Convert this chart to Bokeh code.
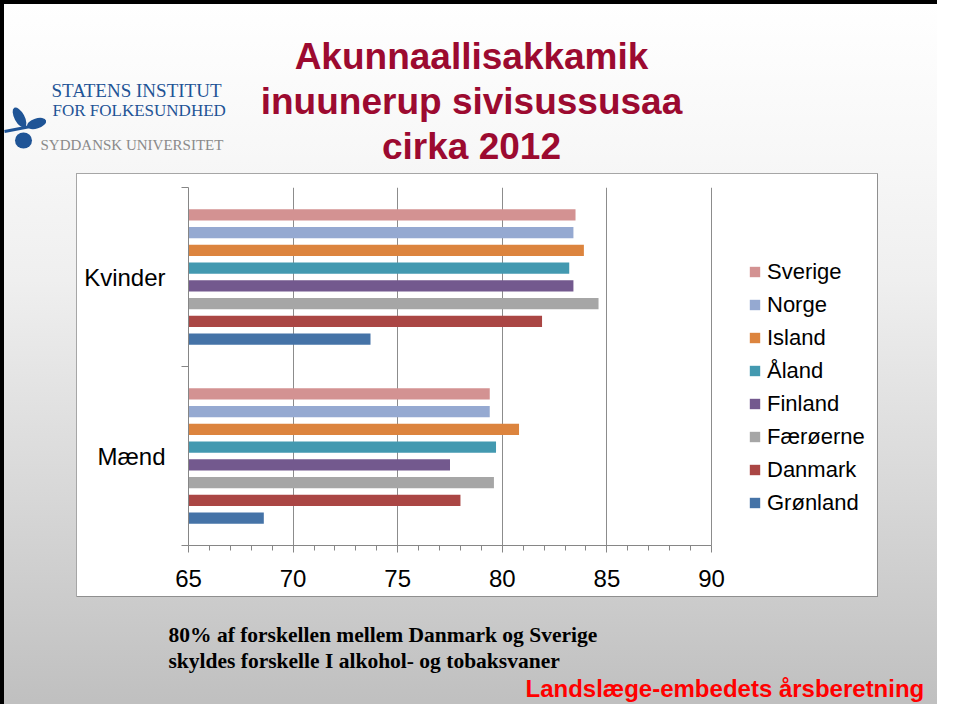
from bokeh.plotting import figure
from bokeh.layouts import column, row
from bokeh.models import (Range1d, FixedTicker, Legend, LegendItem, Label,
                          ColumnDataSource, Spacer)
from bokeh.embed import file_html
from bokeh.resources import INLINE

# ---------------- data ----------------
genders = ["Mænd", "Kvinder"]
countries = ["Sverige", "Norge", "Island", "Åland", "Finland", "Færøerne", "Danmark", "Grønland"]
kvinder = [83.5, 83.4, 83.9, 83.2, 83.4, 84.6, 81.9, 73.7]
maend = [79.4, 79.4, 80.8, 79.7, 77.5, 79.6, 78.0, 68.6]
colors = ["#D39292", "#95A9D1", "#DC843E", "#4399B0", "#73598E", "#A6A6A6", "#AA4644", "#4573A7"]
x_ticks = [65, 70, 75, 80, 85, 90]
title_lines = ["Akunnaallisakkamik", "inuunerup sivisussusaa", "cirka 2012"]
note_lines = ["80%  af forskellen mellem Danmark og Sverige",
              "skyldes forskelle I alkohol- og tobaksvaner"]
footer = "Landslæge-embedets  årsberetning"
logo_lines = ["STATENS INSTITUT", "FOR FOLKESUNDHED", "SYDDANSK UNIVERSITET"]

# ---------------- page geometry (px) ----------------
W, H = 937, 704
HEAD_H = 180
BOX_L, BOX_T, BOX_R, BOX_B = 76, 173, 878, 597      # white chart box
FL, FR, FT, FB = 188, 711, 187, 545                 # plot area (65..90)
CH_BOTTOM = 615
CH_H = CH_BOTTOM - HEAD_H
FOOT_H = H - CH_BOTTOM


def deco_fig(w, h):
    f = figure(width=w, height=h, x_range=Range1d(0, w), y_range=Range1d(h, 0),
               x_axis_type=None, y_axis_type=None, output_backend="svg",
               toolbar_location=None, min_border=0)
    f.border_fill_color = None
    f.background_fill_color = None
    f.outline_line_color = None
    return f


# ---------------- header (logo + title) ----------------
head = deco_fig(W, HEAD_H)
for k, t in enumerate(title_lines):
    head.add_layout(Label(x=471, y=56 + 45 * k, text=t, text_align="center",
                          text_baseline="middle", text_font="Liberation Sans",
                          text_font_style="bold", text_font_size="37px",
                          text_color="#9C0A30"))
head.add_layout(Label(x=51, y=90, text=logo_lines[0], text_baseline="middle",
                      text_font="Liberation Serif", text_font_size="19px",
                      text_color="#1F5496"))
head.add_layout(Label(x=52, y=110, text=logo_lines[1], text_baseline="middle",
                      text_font="Liberation Serif", text_font_size="17px",
                      text_color="#1F5496"))
head.add_layout(Label(x=40, y=144, text=logo_lines[2], text_baseline="middle",
                      text_font="Liberation Serif", text_font_size="15px",
                      text_color="#8A8A8A"))
# leaf emblem
head.segment(x0=[4], y0=[131], x1=[30], y1=[126], line_color="#1F5496", line_width=3)
head.ellipse(x=[19], y=[117], width=[10], height=[22], angle=[0.5],
             fill_color="#1F5496", line_color=None)
head.ellipse(x=[36], y=[123], width=[20], height=[10], angle=[0.3],
             fill_color="#1F5496", line_color=None)
head.ellipse(x=[23], y=[140], width=[17], height=[16],
             fill_color="#1F5496", line_color=None)

# ---------------- chart ----------------
x_end = 65 + 25 * (BOX_R - FL) / (FR - FL)   # frame extends to the box edge
p = figure(width=BOX_R - BOX_L, height=CH_H, x_range=Range1d(65, x_end),
           y_range=Range1d(0, 2), output_backend="svg", toolbar_location=None,
           min_border_left=FL - BOX_L, min_border_right=0,
           min_border_top=FT - HEAD_H, min_border_bottom=CH_BOTTOM - FB)
p.border_fill_color = None
p.background_fill_color = None
p.outline_line_color = None

step = 0.0992
bar_h = 0.063
items = []
for i, c in enumerate(countries):
    off = (3.5 - i) * step
    src = ColumnDataSource(dict(
        y=[genders.index("Mænd") + 0.5 + off, genders.index("Kvinder") + 0.5 + off],
        right=[maend[i], kvinder[i]],
    ))
    r = p.hbar(y="y", right="right", left=65, height=bar_h, source=src,
               fill_color=colors[i], line_color=None)
    items.append(LegendItem(label=c, renderers=[r]))

xa = p.xaxis[0]
xa.ticker = FixedTicker(ticks=x_ticks, minor_ticks=list(range(65, 91)))
xa.bounds = (x_ticks[0], x_ticks[-1])
xa.axis_line_color = "#868686"
xa.major_tick_line_color = "#868686"
xa.minor_tick_line_color = "#868686"
xa.major_tick_out = 7
xa.major_tick_in = 0
xa.minor_tick_out = 5
xa.minor_tick_in = 0
xa.major_label_text_font = "Liberation Sans"
xa.major_label_text_font_size = "24px"
xa.major_label_text_color = "black"
xa.major_label_standoff = 17

ya = p.yaxis[0]
ya.ticker = FixedTicker(ticks=[0.5, 1.5], minor_ticks=[0, 1, 2])
ya.major_label_overrides = {0.5: genders[0], 1.5: genders[1]}
ya.axis_line_color = "#868686"
ya.major_tick_line_color = None
ya.major_tick_out = 0
ya.major_tick_in = 0
ya.minor_tick_line_color = "#868686"
ya.minor_tick_out = 7
ya.minor_tick_in = 0
ya.major_label_text_font = "Liberation Sans"
ya.major_label_text_font_size = "24px"
ya.major_label_text_color = "black"
ya.major_label_standoff = 16

p.xgrid.grid_line_color = "#8c8c8c"
p.ygrid.grid_line_color = None

legend = Legend(items=items, location=(748 - FL, FB - 519), orientation="vertical",
                label_text_font="Liberation Sans", label_text_font_size="22px",
                label_text_color="black",
                glyph_width=13, glyph_height=13, label_standoff=6,
                spacing=0, padding=0, margin=0, label_height=33,
                border_line_color=None, background_fill_alpha=0)
p.add_layout(legend)

chart_row = row(Spacer(width=BOX_L, height=CH_H), p,
                Spacer(width=W - BOX_R, height=CH_H))

# ---------------- footer (note + source) ----------------
foot = deco_fig(W, FOOT_H)
for k, t in enumerate(note_lines):
    foot.add_layout(Label(x=168, y=634 + 26 * k - CH_BOTTOM, text=t, text_baseline="middle",
                          text_font="Liberation Serif", text_font_style="bold",
                          text_font_size="21.5px", text_color="black"))
foot.add_layout(Label(x=525, y=688 - CH_BOTTOM, text=footer, text_baseline="middle",
                      text_font="Liberation Sans", text_font_style="bold",
                      text_font_size="24px", text_color="#FF0000"))

page = column(head, chart_row, foot)
bc = "#A6A6A6"
bw, bh = BOX_R - BOX_L, BOX_B - BOX_T
page.styles = {
    "background": (
        f"linear-gradient({bc},{bc}) {BOX_L}px {BOX_T}px / {bw}px 1px no-repeat, "
        f"linear-gradient({bc},{bc}) {BOX_L}px {BOX_T}px / 1px {bh}px no-repeat, "
        f"linear-gradient(#8f8f8f,#8f8f8f) {BOX_R - 1}px {BOX_T}px / 1px {bh}px no-repeat, "
        f"linear-gradient(#8f8f8f,#8f8f8f) {BOX_L}px {BOX_B - 1}px / {bw}px 1px no-repeat, "
        f"linear-gradient(#ffffff,#ffffff) {BOX_L}px {BOX_T}px / {bw}px {bh}px no-repeat, "
        "linear-gradient(to bottom, #ffffff 0px, #f7f7f7 160px, #efefef 280px, "
        "#d8d8d8 490px, #c0c0c0 700px)"
    ),
    "box-shadow": "inset 4px 4px 0 0 #000000",
}

open("out.html", "w").write(file_html(page, INLINE))
